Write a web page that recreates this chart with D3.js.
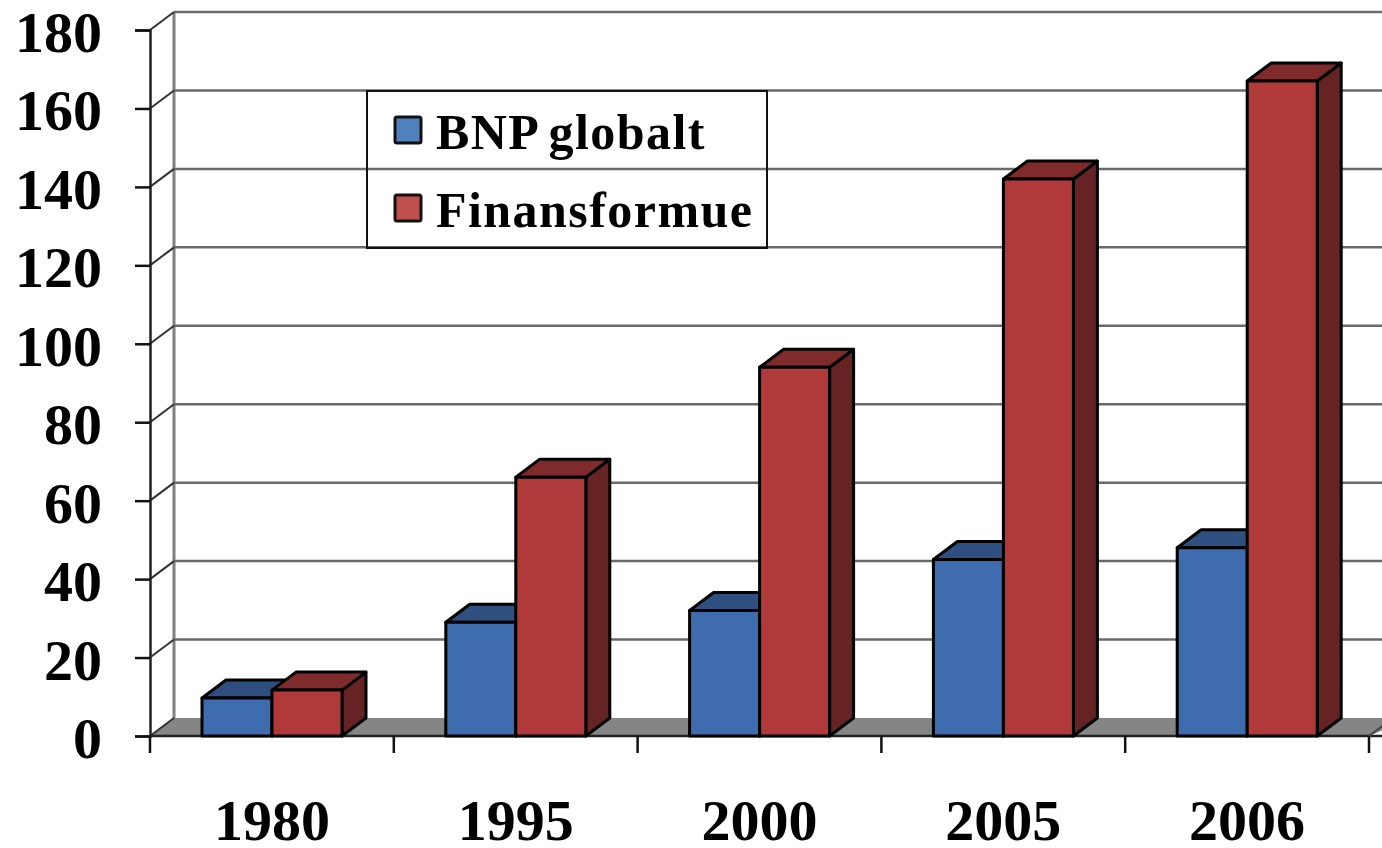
<!DOCTYPE html>
<html>
<head>
<meta charset="utf-8">
<script src="https://cdn.jsdelivr.net/npm/d3@7"></script>
<style>
  html, body { margin: 0; padding: 0; background: #fff; }
  svg { display: block; filter: blur(0.6px); }
  text { font-family: "Liberation Serif", serif; font-weight: bold; fill: #000; }
</style>
</head>
<body>
<div id="chart"></div>
<script>
const years = ['1980', '1995', '2000', '2005', '2006'];
const bnpGlobalt = [9.7, 29, 32, 45, 48];
const finansformue = [11.7, 66, 94, 142, 167];
const seriesNames = ['BNP globalt', 'Finansformue'];
const yTicks = [0, 20, 40, 60, 80, 100, 120, 140, 160, 180];

const width = 1382, height = 848;
const depthX = 24, depthY = -18;

const svg = d3.select('#chart').append('svg')
  .attr('width', width)
  .attr('height', height);

const y = d3.scaleLinear().domain([0, 180]).range([736, 30]);
const x = d3.scaleBand().domain(years).range([150, 1369]);
const inner = d3.scaleBand().domain(seriesNames).range([52, 192]);

const colors = {
  'BNP globalt': { front: '#3f6cae', top: '#2f4f80', side: '#2a4570', key: '#4f81bd' },
  'Finansformue': { front: '#b03a3a', top: '#7f2b2b', side: '#662323', key: '#c0504d' }
};

const rows = years.flatMap((year, i) => [
  { year, name: seriesNames[0], value: bnpGlobalt[i] },
  { year, name: seriesNames[1], value: finansformue[i] }
]);

// floor
svg.append('path')
  .attr('d', `M${x.range()[0]},${y(0)}l${depthX},${depthY}H${width + 30}L${x.range()[1]},${y(0)}Z`)
  .attr('fill', '#858585');

// back wall and grid
svg.append('line')
  .attr('x1', x.range()[0] + depthX).attr('x2', x.range()[0] + depthX)
  .attr('y1', y(0) + depthY).attr('y2', y(180) + depthY)
  .attr('stroke', '#808080').attr('stroke-width', 3);

const grid = svg.append('g').selectAll('g').data(yTicks).join('g');
grid.filter(d => d > 0).append('line')
  .attr('x1', x.range()[0] + depthX).attr('x2', width)
  .attr('y1', d => y(d) + depthY).attr('y2', d => y(d) + depthY)
  .attr('stroke', '#6a6a6a').attr('stroke-width', 2.5);
grid.append('line')
  .attr('x1', x.range()[0]).attr('x2', x.range()[0] + depthX)
  .attr('y1', d => y(d)).attr('y2', d => y(d) + depthY)
  .attr('stroke', '#333').attr('stroke-width', 2);

// axes
const yAxis = d3.axisLeft(y).tickValues(yTicks).tickSize(15).tickPadding(0);
const yAxisG = svg.append('g').attr('transform', `translate(${x.range()[0]},0)`).call(yAxis);
yAxisG.select('.domain').attr('stroke', '#222').attr('stroke-width', 2.5);
yAxisG.selectAll('.tick line').attr('stroke', '#111').attr('stroke-width', 2.5);
yAxisG.selectAll('.tick text')
  .attr('x', -48)
  .attr('dy', 21.5)
  .attr('font-size', 58)
  .style('font-family', '"Liberation Serif", serif');

svg.append('line')
  .attr('x1', x.range()[0]).attr('x2', width)
  .attr('y1', y(0)).attr('y2', y(0))
  .attr('stroke', '#222').attr('stroke-width', 2.5);

const xEdges = years.map(d => x(d)).concat(x.range()[1]);
svg.append('g').selectAll('line').data(xEdges).join('line')
  .attr('x1', d => d).attr('x2', d => d)
  .attr('y1', y(0)).attr('y2', y(0) + 17)
  .attr('stroke', '#111').attr('stroke-width', 2.5);
svg.append('line')
  .attr('x1', x.range()[1]).attr('x2', x.range()[1] + depthX)
  .attr('y1', y(0)).attr('y2', y(0) + depthY)
  .attr('stroke', '#444').attr('stroke-width', 2);

svg.append('g').selectAll('text').data(years).join('text')
  .attr('x', d => x(d) + x.bandwidth() / 2)
  .attr('y', 840)
  .attr('text-anchor', 'middle')
  .attr('font-size', 58)
  .text(d => d);

// bars
const bar = svg.append('g').selectAll('g').data(rows).join('g')
  .attr('stroke', '#000')
  .attr('stroke-width', 3)
  .attr('stroke-linejoin', 'round');
const left = d => x(d.year) + inner(d.name);
bar.append('path')
  .attr('fill', d => colors[d.name].side)
  .attr('d', d => `M${left(d) + inner.bandwidth()},${y(0)}V${y(d.value)}l${depthX},${depthY}V${y(0) + depthY}Z`);
bar.append('path')
  .attr('fill', d => colors[d.name].top)
  .attr('d', d => `M${left(d)},${y(d.value)}l${depthX},${depthY}h${inner.bandwidth()}l${-depthX},${-depthY}Z`);
bar.append('rect')
  .attr('fill', d => colors[d.name].front)
  .attr('x', left)
  .attr('y', d => y(d.value))
  .attr('width', inner.bandwidth())
  .attr('height', d => y(0) - y(d.value));

// legend
const legendY = d3.scalePoint().domain(seriesNames).range([130, 208]);
svg.append('rect')
  .attr('x', 367).attr('y', 91).attr('width', 400).attr('height', 157)
  .attr('fill', 'none').attr('stroke', '#111').attr('stroke-width', 2);
const legend = svg.append('g').selectAll('g').data(seriesNames).join('g');
legend.append('rect')
  .attr('x', 395).attr('y', d => legendY(d) - 13)
  .attr('width', 26).attr('height', 26).attr('rx', 2)
  .attr('fill', d => colors[d].key)
  .attr('stroke', '#111').attr('stroke-width', 3);
legend.append('text')
  .attr('x', 436).attr('y', d => legendY(d) + 19)
  .attr('font-size', 50)
  .attr('letter-spacing', 1.45)
  .attr('word-spacing', -3)
  .text(d => d);
</script>
</body>
</html>
